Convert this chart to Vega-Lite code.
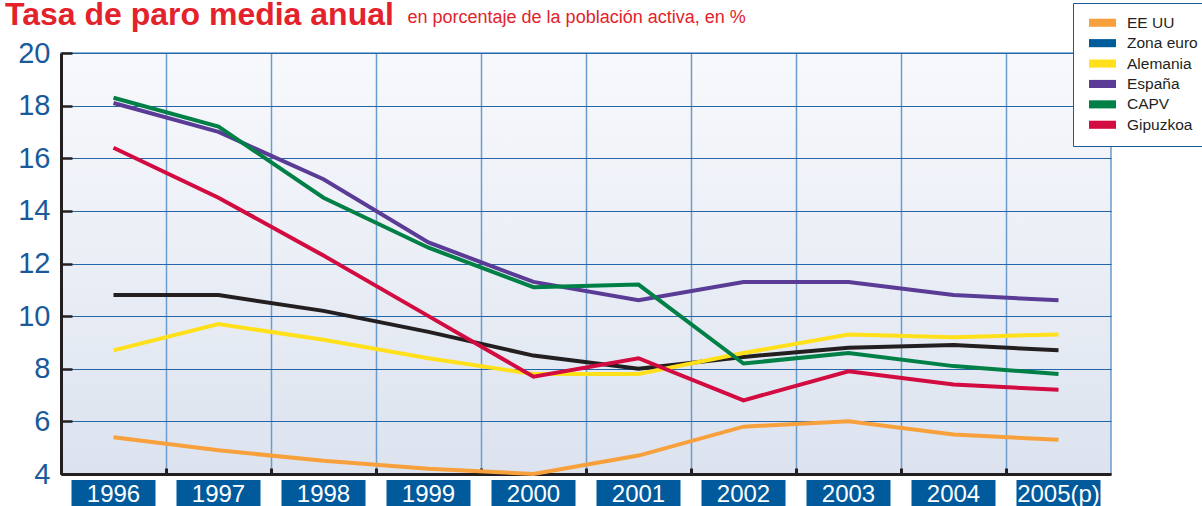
{
  "$schema": "https://vega.github.io/schema/vega-lite/v6.json",
  "width": 1050,
  "height": 421,
  "autosize": "none",
  "padding": {"left": 61, "top": 53, "right": 91, "bottom": 32},
  "background": "white",
  "config": {
    "font": "Liberation Sans",
    "view": {
      "stroke": "#6b9ccb",
      "strokeWidth": 1.5,
      "fill": {"gradient": "linear", "x1": 0, "y1": 0, "x2": 0, "y2": 1, "stops": [{"offset": 0, "color": "#f8f9fc"}, {"offset": 1, "color": "#dce3ef"}]}
    }
  },
  "title": {
    "text": "Tasa de paro media anual",
    "anchor": "start",
    "frame": "group",
    "fontSize": 32,
    "font": "Liberation Sans",
    "fontWeight": "bold",
    "color": "#e3222b",
    "dx": -56,
    "baseline": "alphabetic",
    "offset": -54
  },
  "datasets": {
    "paro": [
      {"year": "1996", "serie": "EE UU", "value": 5.4},
      {"year": "1997", "serie": "EE UU", "value": 4.9},
      {"year": "1998", "serie": "EE UU", "value": 4.5},
      {"year": "1999", "serie": "EE UU", "value": 4.2},
      {"year": "2000", "serie": "EE UU", "value": 4.0},
      {"year": "2001", "serie": "EE UU", "value": 4.7},
      {"year": "2002", "serie": "EE UU", "value": 5.8},
      {"year": "2003", "serie": "EE UU", "value": 6.0},
      {"year": "2004", "serie": "EE UU", "value": 5.5},
      {"year": "2005(p)", "serie": "EE UU", "value": 5.3},
      {"year": "1996", "serie": "Zona euro", "value": 10.8},
      {"year": "1997", "serie": "Zona euro", "value": 10.8},
      {"year": "1998", "serie": "Zona euro", "value": 10.2},
      {"year": "1999", "serie": "Zona euro", "value": 9.4},
      {"year": "2000", "serie": "Zona euro", "value": 8.5},
      {"year": "2001", "serie": "Zona euro", "value": 8.0},
      {"year": "2002", "serie": "Zona euro", "value": 8.45},
      {"year": "2003", "serie": "Zona euro", "value": 8.8},
      {"year": "2004", "serie": "Zona euro", "value": 8.9},
      {"year": "2005(p)", "serie": "Zona euro", "value": 8.7},
      {"year": "1996", "serie": "Alemania", "value": 8.7},
      {"year": "1997", "serie": "Alemania", "value": 9.7},
      {"year": "1998", "serie": "Alemania", "value": 9.1},
      {"year": "1999", "serie": "Alemania", "value": 8.4},
      {"year": "2000", "serie": "Alemania", "value": 7.8},
      {"year": "2001", "serie": "Alemania", "value": 7.8},
      {"year": "2002", "serie": "Alemania", "value": 8.6},
      {"year": "2003", "serie": "Alemania", "value": 9.3},
      {"year": "2004", "serie": "Alemania", "value": 9.2},
      {"year": "2005(p)", "serie": "Alemania", "value": 9.3},
      {"year": "1996", "serie": "España", "value": 18.1},
      {"year": "1997", "serie": "España", "value": 17.0},
      {"year": "1998", "serie": "España", "value": 15.2},
      {"year": "1999", "serie": "España", "value": 12.8},
      {"year": "2000", "serie": "España", "value": 11.3},
      {"year": "2001", "serie": "España", "value": 10.6},
      {"year": "2002", "serie": "España", "value": 11.3},
      {"year": "2003", "serie": "España", "value": 11.3},
      {"year": "2004", "serie": "España", "value": 10.8},
      {"year": "2005(p)", "serie": "España", "value": 10.6},
      {"year": "1996", "serie": "CAPV", "value": 18.3},
      {"year": "1997", "serie": "CAPV", "value": 17.2},
      {"year": "1998", "serie": "CAPV", "value": 14.5},
      {"year": "1999", "serie": "CAPV", "value": 12.6},
      {"year": "2000", "serie": "CAPV", "value": 11.1},
      {"year": "2001", "serie": "CAPV", "value": 11.2},
      {"year": "2002", "serie": "CAPV", "value": 8.2},
      {"year": "2003", "serie": "CAPV", "value": 8.6},
      {"year": "2004", "serie": "CAPV", "value": 8.1},
      {"year": "2005(p)", "serie": "CAPV", "value": 7.8},
      {"year": "1996", "serie": "Gipuzkoa", "value": 16.4},
      {"year": "1997", "serie": "Gipuzkoa", "value": 14.5},
      {"year": "1998", "serie": "Gipuzkoa", "value": 12.3},
      {"year": "1999", "serie": "Gipuzkoa", "value": 10.0},
      {"year": "2000", "serie": "Gipuzkoa", "value": 7.7},
      {"year": "2001", "serie": "Gipuzkoa", "value": 8.4},
      {"year": "2002", "serie": "Gipuzkoa", "value": 6.8},
      {"year": "2003", "serie": "Gipuzkoa", "value": 7.9},
      {"year": "2004", "serie": "Gipuzkoa", "value": 7.4},
      {"year": "2005(p)", "serie": "Gipuzkoa", "value": 7.2}
    ],
    "years": [
      {"year": "1996", "value": 3.77, "value2": 2.6, "textpos": 2.92},
      {"year": "1997", "value": 3.77, "value2": 2.6, "textpos": 2.92},
      {"year": "1998", "value": 3.77, "value2": 2.6, "textpos": 2.92},
      {"year": "1999", "value": 3.77, "value2": 2.6, "textpos": 2.92},
      {"year": "2000", "value": 3.77, "value2": 2.6, "textpos": 2.92},
      {"year": "2001", "value": 3.77, "value2": 2.6, "textpos": 2.92},
      {"year": "2002", "value": 3.77, "value2": 2.6, "textpos": 2.92},
      {"year": "2003", "value": 3.77, "value2": 2.6, "textpos": 2.92},
      {"year": "2004", "value": 3.77, "value2": 2.6, "textpos": 2.92},
      {"year": "2005(p)", "value": 3.77, "value2": 2.6, "textpos": 2.92}
    ]
  },
  "encoding": {
    "x": {
      "field": "year", "type": "ordinal",
      "scale": {"type": "band", "paddingInner": 0, "paddingOuter": 0, "domain": ["1996","1997","1998","1999","2000","2001","2002","2003","2004","2005(p)"]},
      "axis": {
        "title": null, "labels": false, "bandPosition": 0,
        "grid": true, "gridColor": "#6b9ccb", "gridWidth": 1.5,
        "domainColor": "#231f20", "domainWidth": 3,
        "ticks": true, "tickColor": "#231f20", "tickWidth": 3, "tickSize": -6
      }
    },
    "y": {
      "field": "value", "type": "quantitative",
      "scale": {"domain": [4, 20], "nice": false, "zero": false},
      "axis": {
        "title": "en porcentaje de la población activa, en %",
        "titleAngle": 0, "titleAlign": "left", "titleBaseline": "alphabetic",
        "titleX": 346, "titleY": -30.5, "titleFontSize": 18, "titleFontWeight": "normal",
        "titleColor": "#e3222b", "titleFont": "Liberation Sans",
        "values": [4, 6, 8, 10, 12, 14, 16, 18, 20],
        "labelFontSize": 29, "labelColor": "#1a5a9a", "labelFont": "Liberation Sans",
        "labelPadding": 22,
        "grid": true, "gridColor": "#2566a8", "gridWidth": 1,
        "domainColor": "#231f20", "domainWidth": 3,
        "tickColor": "#231f20", "tickWidth": 2.5, "tickSize": -11
      }
    }
  },
  "layer": [
    {
      "data": {"name": "paro"},
      "transform": [{"filter": "datum.serie === 'Zona euro'"}],
      "mark": {"type": "line", "stroke": "#231f20", "strokeWidth": 4, "clip": false},
      "encoding": {
        "x": {"field": "year", "type": "ordinal", "bandPosition": 0.5}
      }
    },
    {
      "data": {"name": "paro"},
      "transform": [{"filter": "datum.serie !== 'Zona euro'"}],
      "mark": {"type": "line", "strokeWidth": 4, "clip": false},
      "encoding": {
        "x": {"field": "year", "type": "ordinal", "bandPosition": 0.5},
        "color": {
          "field": "serie", "type": "nominal",
          "scale": {
            "domain": ["EE UU", "Zona euro", "Alemania", "España", "CAPV", "Gipuzkoa"],
            "range": ["#f7a03c", "#005b9a", "#ffe01b", "#5a3b96", "#008046", "#d20b40"]
          },
          "legend": {
            "title": null, "orient": "none", "legendX": 1012, "legendY": -50,
            "fillColor": "white", "strokeColor": "#1a5a9a", "padding": 12,
            "symbolType": "M-0.556,-0.6H3.444V0.6H-0.556Z", "symbolSize": 182, "symbolStrokeWidth": 0, "symbolOpacity": 1,
            "labelFont": "Liberation Sans", "labelFontSize": 15.5, "labelColor": "#231f20",
            "labelOffset": 26.5, "rowPadding": 3.4,
            "encode": {"symbols": {"update": {"fill": {"scale": "color", "field": "value"}, "strokeWidth": {"value": 0}}}}
          }
        }
      }
    },
    {
      "data": {"name": "years"},
      "mark": {"type": "rect", "color": "#005a9c", "width": {"band": 0.8}, "clip": false},
      "encoding": {
        "y2": {"field": "value2"}
      }
    },
    {
      "data": {"name": "years"},
      "mark": {"type": "text", "color": "white", "fontSize": 24, "font": "Liberation Sans", "baseline": "alphabetic", "align": "center", "clip": false},
      "encoding": {
        "x": {"field": "year", "type": "ordinal", "bandPosition": 0.5},
        "y": {"field": "textpos", "type": "quantitative"},
        "text": {"field": "year"}
      }
    }
  ]
}
